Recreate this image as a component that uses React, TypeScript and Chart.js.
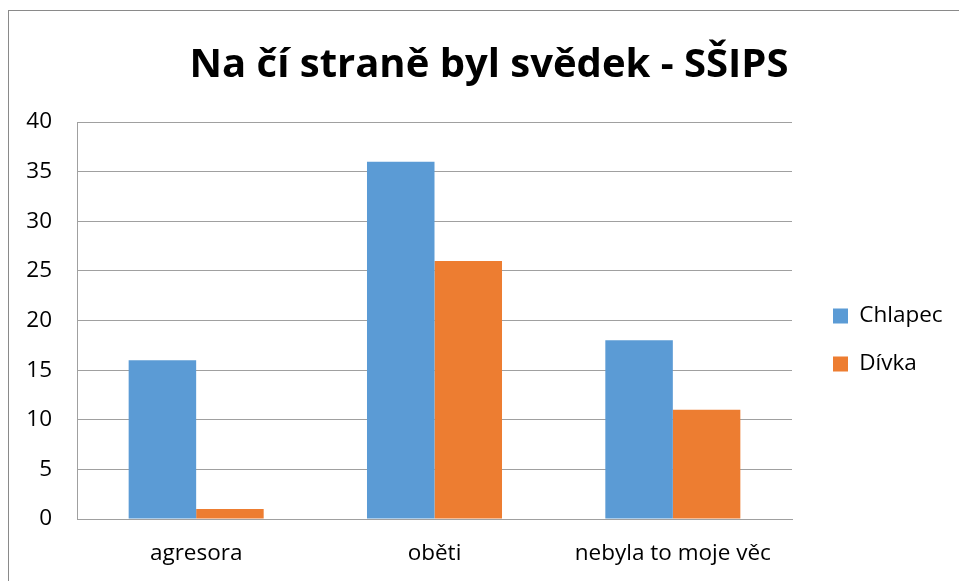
import { useEffect, useRef } from "react";
import { Chart, registerables } from "chart.js";

Chart.register(...registerables);

const titleText = "Na čí straně byl svědek - SŠIPS";
const categories = ["agresora", "oběti", "nebyla to moje věc"];
const seriesNames = ["Chlapec", "Dívka"];
const chlapecValues = [16, 36, 18];
const divkaValues = [1, 26, 11];
const yMin = 0;
const yMax = 40;
const yStep = 5;
const seriesColors = ["#5B9BD5", "#ED7D31"];

const W = 950;
const H = 570;
const FONT = '"Open Sans", "Noto Sans", sans-serif';
const LABEL_SIZE = 22.5;
const TITLE_SIZE = 40;

export default function App() {
  const ref = useRef<HTMLCanvasElement | null>(null);

  useEffect(() => {
    const canvas = ref.current;
    if (!canvas) return;
    const ctx2 = canvas.getContext("2d")!;
    ctx2.font = `normal ${LABEL_SIZE}px ${FONT}`;
    const textW = Math.max(...seriesNames.map((s) => ctx2.measureText(s).width));

    const plotLeft = 68;
    const plotRight = 783;
    const legendLeft = 798.5;
    const legendPad = 25.5;
    const boxW = 15;
    const legendW = legendPad + boxW + LABEL_SIZE / 2 + textW + 10;
    const padR = W - legendLeft - legendW;
    const padL = 960 - W + padR;

    const chart = new Chart(canvas, {
      type: "bar",
      data: {
        labels: categories,
        datasets: [
          {
            label: seriesNames[0],
            data: chlapecValues,
            backgroundColor: seriesColors[0],
            borderWidth: 0,
            categoryPercentage: 0.5665,
            barPercentage: 1,
          },
          {
            label: seriesNames[1],
            data: divkaValues,
            backgroundColor: seriesColors[1],
            borderWidth: 0,
            categoryPercentage: 0.5665,
            barPercentage: 1,
          },
        ],
      },
      options: {
        responsive: false,
        animation: false,
        devicePixelRatio: 1,
        layout: { padding: { left: padL, right: padR, top: 0, bottom: 0 } },
        font: { family: FONT },
        plugins: {
          title: {
            display: true,
            text: titleText,
            color: "#000000",
            font: { family: FONT, size: TITLE_SIZE, weight: "bold", lineHeight: 1.2 },
            padding: { top: 30.5, bottom: 32.5 },
          },
          legend: {
            display: true,
            position: "right",
            fullSize: false,
            title: {
              display: true,
              text: "",
              font: { size: 10, lineHeight: 1 },
              padding: { top: 29, bottom: 0 },
            },
            labels: {
              color: "#000000",
              font: { family: FONT, size: LABEL_SIZE },
              boxWidth: boxW,
              boxHeight: 15,
              padding: legendPad,
            },
          },
          tooltip: { enabled: false },
        },
        scales: {
          x: {
            grid: { display: false, drawTicks: false },
            border: { display: true, color: "#a0a0a0", width: 1 },
            ticks: {
              color: "#000000",
              font: { family: FONT, size: LABEL_SIZE },
              padding: 21,
              maxRotation: 0,
            },
            afterFit: (s: any) => {
              s.height = 62;
            },
          },
          y: {
            min: yMin,
            max: yMax,
            ticks: {
              stepSize: yStep,
              color: "#000000",
              font: { family: FONT, size: LABEL_SIZE },
              padding: 25,
            },
            grid: { color: "#a0a0a0", drawTicks: false, lineWidth: 1 },
            border: { display: true, color: "#a0a0a0", width: 1 },
            afterFit: (s: any) => {
              s.width = plotLeft - padL;
            },
          },
          gap: {
            type: "linear",
            position: "right",
            display: true,
            grid: { display: false, drawTicks: false },
            border: { display: false },
            ticks: { display: false },
            afterFit: (s: any) => {
              s.width = legendLeft - plotRight;
            },
          },
        },
      },
    });
    return () => chart.destroy();
  }, []);

  return (
    <div
      style={{
        position: "absolute",
        left: 8,
        top: 10,
        width: W + 1,
        height: H + 1,
        borderLeft: "1px solid #8a8a8a",
        borderTop: "1px solid #8a8a8a",
        boxSizing: "border-box",
        overflow: "hidden",
        background: "#ffffff",
      }}
    >
      <canvas ref={ref} width={W} height={H} style={{ display: "block", width: W, height: H }} />
    </div>
  );
}
